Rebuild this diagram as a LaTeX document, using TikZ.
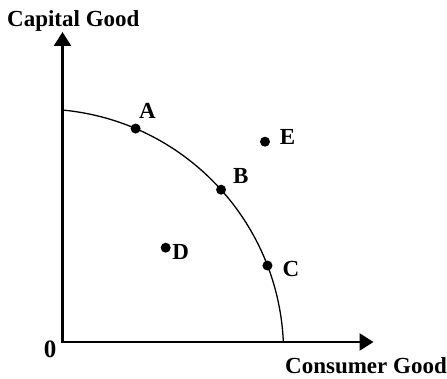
\documentclass[tikz,border=0pt]{standalone}
\usepackage{fontspec}
\setmainfont{Liberation Serif}
\usetikzlibrary{arrows.meta}
\begin{document}
\begin{tikzpicture}[x=1pt,y=1pt,
  axes/.style={line width=2.6pt, line join=miter,
    {Triangle[length=14pt,width=17pt]}-{Triangle[length=14pt,width=17pt]}},
  ppf/.style={line width=1.3pt},
  dot/.style={circle, fill=black, inner sep=0pt, minimum size=10pt},
  lbl/.style={font=\bfseries\fontsize{23}{26}\selectfont, inner sep=0pt},
]
\useasboundingbox (0,0) rectangle (447,379);
\coordinate (O) at (62.5,37);
\coordinate (Ytip) at (62.5,347);
\coordinate (Xtip) at (373.5,37);
\coordinate (Ctr) at (39.89,26.32);
\coordinate (S) at ([shift={(Ctr)}]84.8:243.7);
\draw[axes] (Ytip) -- (O) -- (Xtip);
\draw[ppf] (S) arc[start angle=84.8, end angle=2.75, radius=243.7];
\node[dot] (A) at ([shift={(Ctr)}]66.87:243.7) {};
\node[dot] (B) at ([shift={(Ctr)}]41.97:243.7) {};
\node[dot] (C) at ([shift={(Ctr)}]20.95:243.7) {};
\node[dot] (D) at (165.7,131.3) {};
\node[dot] (E) at (265,237.3) {};
\node[lbl, anchor=base] (lA) at (147.5,260.6) {A};
\node[lbl, anchor=base] (lB) at (240.8,195.9) {B};
\node[lbl, anchor=base] (lC) at (291,102.4) {C};
\node[lbl, anchor=base] (lD) at (180.7,119.7) {D};
\node[lbl, anchor=base] (lE) at (287.5,234.9) {E};
\node[lbl, anchor=base west] (cap) at (7,352) {Capital Good};
\node[lbl, anchor=base west] (con) at (285,5) {Consumer Good};
\node[lbl, anchor=base, font=\bfseries\fontsize{25}{28}\selectfont] (zero) at (50,21) {0};
\end{tikzpicture}
\end{document}
